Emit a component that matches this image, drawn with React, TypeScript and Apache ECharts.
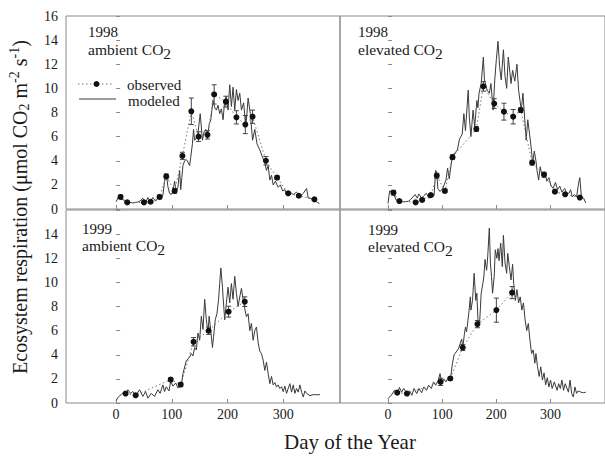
import React, { useEffect, useRef } from "react";
import * as echarts from "echarts";

// ---- data ----
const tickDays = [0, 100, 200, 300];

// modeled daily respiration, [day, µmol CO2 m-2 s-1]
const model98Amb: [number, number][] = [
  [0, 0.6], [4, 1.0], [8, 0.85], [13, 0.75], [18, 0.55], [24, 0.55], [30, 0.5], [36, 0.55], [41, 0.6], [45, 0.75],
  [48, 0.9], [53, 0.55], [57, 0.95], [61, 0.6], [66, 0.95], [71, 0.65], [76, 1.0], [81, 0.8], [84, 1.15], [87, 2.3],
  [90, 2.95], [93, 1.85], [96, 1.3], [99, 1.2], [102, 1.45], [105, 2.3], [108, 1.4], [111, 1.8], [114, 3.2], [116, 1.6],
  [118, 2.6], [120, 3.6], [123, 4.0], [126, 4.1], [129, 3.9], [132, 3.6], [134, 4.3], [137, 5.4], [139, 6.6], [141, 5.7],
  [144, 5.9], [147, 6.3], [151, 7.9], [155, 5.7], [158, 6.4], [161, 6.6], [164, 5.8], [167, 7.0], [170, 7.4], [174, 9.0],
  [177, 8.4], [180, 8.2], [183, 8.6], [186, 7.9], [189, 8.3], [192, 7.4], [195, 9.0], [198, 9.3], [201, 8.2], [204, 10.3],
  [207, 8.5], [210, 10.1], [213, 8.2], [216, 9.9], [219, 9.0], [222, 9.6], [225, 8.2], [229, 8.8], [233, 6.8], [237, 9.2],
  [241, 7.9], [245, 5.7], [249, 6.6], [253, 5.4], [258, 4.9], [262, 4.4], [267, 3.8], [270, 3.2], [273, 3.6], [276, 2.4],
  [279, 2.8], [282, 2.0], [286, 2.3], [291, 1.8], [295, 2.0], [299, 1.5], [303, 1.6], [306, 1.2], [312, 1.4], [318, 1.2],
  [324, 1.4], [330, 1.0], [336, 1.3], [342, 1.7], [345, 0.9], [348, 0.9], [354, 0.75], [360, 0.6], [365, 0.45],
];
const model98Elev: [number, number][] = [
  [0, 0.45], [3, 1.5], [9, 1.4], [15, 0.75], [20, 0.6], [26, 0.6], [32, 0.6], [38, 0.65], [42, 0.8], [46, 1.0],
  [50, 1.2], [54, 0.9], [57, 1.25], [62, 0.9], [66, 1.1], [71, 1.3], [75, 0.9], [80, 1.0], [85, 1.1], [88, 3.2],
  [90, 3.0], [92, 1.7], [96, 1.45], [101, 1.7], [107, 2.4], [110, 3.4], [113, 2.5], [119, 4.5], [123, 4.6], [128, 4.9],
  [132, 5.8], [137, 6.2], [140, 7.9], [143, 6.5], [148, 9.85], [150, 7.7], [153, 6.0], [157, 8.2], [160, 6.8], [164, 9.0],
  [166, 8.4], [168, 9.6], [172, 10.4], [176, 12.6], [178, 10.7], [183, 9.85], [187, 9.6], [190, 10.4], [194, 8.2], [197, 10.7],
  [200, 12.4], [203, 13.9], [206, 11.8], [209, 10.7], [213, 13.2], [216, 11.0], [219, 10.0], [222, 12.6], [225, 11.3], [227, 10.4],
  [230, 11.5], [234, 10.6], [238, 12.0], [241, 9.85], [246, 8.2], [249, 9.6], [252, 7.7], [255, 5.7], [258, 7.4], [261, 6.3],
  [264, 5.2], [267, 3.8], [270, 4.8], [273, 4.0], [275, 3.2], [278, 2.4], [281, 3.5], [284, 2.8], [287, 2.6], [290, 3.0],
  [293, 2.3], [297, 2.6], [301, 1.9], [305, 1.75], [309, 2.2], [313, 1.6], [317, 1.9], [321, 1.4], [326, 1.7], [330, 1.3],
  [334, 1.3], [337, 1.6], [340, 1.0], [344, 1.2], [348, 1.0], [352, 2.2], [354, 2.6], [357, 1.0], [361, 0.9], [365, 0.5],
];
const model99Amb: [number, number][] = [
  [0, 0.2], [4, 0.5], [9, 0.7], [13, 0.86], [18, 0.75], [21, 1.1], [26, 0.8], [30, 0.95], [36, 0.65], [42, 1.1],
  [48, 0.55], [53, 0.95], [57, 0.4], [63, 0.8], [69, 0.55], [75, 1.1], [79, 0.8], [84, 1.5], [87, 0.95], [90, 1.35],
  [95, 1.0], [98, 1.8], [102, 1.4], [107, 1.66], [111, 1.25], [114, 1.33], [117, 1.4], [120, 2.44], [126, 3.5], [132, 3.8],
  [135, 4.1], [138, 3.9], [141, 4.6], [144, 4.4], [147, 5.8], [150, 5.2], [153, 7.2], [156, 6.1], [159, 8.6], [162, 6.9],
  [165, 5.8], [167, 7.2], [169, 6.4], [173, 4.6], [175, 5.5], [178, 6.9], [181, 7.4], [184, 8.6], [186, 9.9], [188, 11.2],
  [191, 9.6], [192, 8.8], [195, 6.9], [198, 8.3], [201, 9.6], [204, 8.3], [207, 9.9], [210, 8.6], [213, 10.5], [216, 9.1],
  [219, 8.0], [222, 8.8], [225, 9.5], [228, 8.6], [231, 7.8], [234, 7.15], [237, 7.4], [240, 6.0], [243, 6.6], [246, 5.2],
  [249, 6.0], [252, 6.3], [255, 5.0], [258, 4.3], [261, 4.1], [264, 3.55], [267, 2.7], [270, 3.4], [273, 2.44], [276, 1.6],
  [279, 2.2], [282, 1.5], [285, 1.7], [288, 1.33], [291, 1.5], [294, 1.2], [297, 1.35], [300, 0.94], [303, 1.4], [306, 0.8],
  [309, 1.2], [312, 1.6], [315, 0.9], [318, 1.5], [321, 0.8], [324, 1.2], [327, 0.9], [330, 1.5], [333, 0.9], [336, 0.5],
  [339, 1.0], [342, 0.8], [348, 0.6], [354, 0.7], [360, 0.68], [366, 0.7],
];
const model99Elev: [number, number][] = [
  [0, 0.36], [6, 0.64], [12, 1.05], [18, 0.8], [21, 1.3], [25, 0.9], [29, 1.2], [35, 0.78], [40, 1.0], [44, 0.64],
  [48, 1.2], [53, 0.78], [57, 1.2], [62, 0.85], [66, 1.33], [71, 1.05], [75, 1.47], [80, 1.2], [84, 1.75], [88, 1.47],
  [93, 1.9], [96, 2.44], [99, 1.75], [103, 2.0], [107, 1.75], [112, 2.16], [115, 1.9], [119, 3.3], [122, 4.0], [126, 4.24],
  [130, 4.5], [133, 4.9], [136, 5.3], [138, 4.6], [141, 5.7], [143, 6.3], [145, 5.9], [149, 7.4], [152, 8.8], [153, 7.7],
  [156, 8.5], [159, 10.75], [162, 8.5], [164, 9.1], [166, 6.9], [169, 6.6], [172, 9.1], [175, 9.9], [177, 10.5], [179, 11.9],
  [182, 11.0], [184, 12.1], [187, 14.5], [189, 11.6], [191, 10.5], [193, 9.1], [196, 10.5], [198, 12.7], [201, 12.0], [203, 12.8],
  [205, 11.8], [208, 13.25], [211, 11.3], [213, 13.9], [216, 11.6], [219, 10.75], [221, 12.4], [224, 11.3], [227, 10.2], [230, 11.5],
  [232, 9.9], [235, 8.5], [238, 9.4], [241, 8.3], [244, 8.8], [247, 7.7], [250, 8.3], [253, 6.9], [256, 6.0], [259, 6.6],
  [262, 5.2], [265, 4.1], [268, 4.4], [271, 3.3], [273, 4.1], [276, 3.0], [279, 2.2], [282, 3.0], [285, 1.9], [288, 2.5],
  [291, 1.5], [294, 2.1], [297, 1.33], [300, 1.9], [303, 1.2], [307, 1.75], [312, 1.05], [315, 1.6], [318, 1.2], [321, 1.9],
  [324, 1.05], [327, 1.6], [333, 0.9], [336, 1.9], [339, 0.78], [342, 0.5], [345, 1.33], [348, 0.8], [351, 1.0], [356, 0.9],
  [361, 0.85], [365, 0.9],
];

// observed means and standard errors
const obs98AmbDays = [8, 20, 50, 62, 78, 90, 105, 119, 135, 148, 164, 176, 197, 216, 232, 245, 269, 289, 309, 328, 356];
const obs98AmbVals = [1.0, 0.55, 0.55, 0.6, 1.0, 2.7, 1.5, 4.4, 8.1, 6.0, 6.15, 9.5, 8.9, 7.6, 7.0, 7.65, 4.0, 2.6, 1.3, 1.1, 0.8];
const obs98AmbErr = [0.15, 0.1, 0.1, 0.1, 0.15, 0.2, 0.2, 0.3, 1.1, 0.4, 0.35, 0.8, 0.45, 0.55, 0.75, 0.55, 0.35, 0.15, 0.1, 0.1, 0.1];

const obs98ElevDays = [10, 21, 51, 63, 79, 90, 105, 119, 163, 176, 196, 214, 231, 245, 266, 288, 308, 327, 354];
const obs98ElevVals = [1.35, 0.66, 0.55, 0.75, 1.15, 2.76, 1.5, 4.3, 6.63, 10.17, 8.74, 8.07, 7.65, 8.2, 3.84, 2.85, 1.44, 1.22, 0.95];
const obs98ElevErr = [0.2, 0.1, 0.1, 0.1, 0.1, 0.2, 0.15, 0.2, 0.2, 0.4, 0.4, 0.7, 0.6, 0.2, 0.2, 0.2, 0.1, 0.1, 0.1];

const obs99AmbDays = [17, 35, 98, 116, 139, 166, 202, 231];
const obs99AmbVals = [0.78, 0.64, 1.94, 1.53, 5.07, 5.99, 7.57, 8.4];
const obs99AmbErr = [0.1, 0.1, 0.15, 0.15, 0.35, 0.3, 0.45, 0.4];

const obs99ElevDays = [17, 35, 97, 115, 138, 165, 200, 229];
const obs99ElevVals = [0.86, 0.78, 1.75, 2.03, 4.6, 6.54, 7.7, 9.15];
const obs99ElevErr = [0.1, 0.1, 0.3, 0.15, 0.25, 0.3, 1.0, 0.5];

const panelYears = ["1998", "1998", "1999", "1999"];
const panelTreatments = ["ambient CO", "elevated CO", "ambient CO", "elevated CO"];

// ---- styling ----
const SERIF = "'Liberation Serif', 'Times New Roman', serif";
const FRAME = "#8a8a8a";
const INK = "#1a1a1a";

const panels = [
  { model: model98Amb, days: obs98AmbDays, vals: obs98AmbVals, err: obs98AmbErr },
  { model: model98Elev, days: obs98ElevDays, vals: obs98ElevVals, err: obs98ElevErr },
  { model: model99Amb, days: obs99AmbDays, vals: obs99AmbVals, err: obs99AmbErr },
  { model: model99Elev, days: obs99ElevDays, vals: obs99ElevVals, err: obs99ElevErr },
];

// grid boxes: [left, top, width, height]; right column runs past the page edge
const boxes = [
  [66, 16, 274, 193],
  [340, 16, 276, 193],
  [66, 210, 274, 193],
  [340, 210, 276, 193],
];
const xRanges = [
  [-90, 402],
  [-88.6, 400.5],
  [-90, 402],
  [-88.6, 400.5],
];
// panel caption anchors: [x, year line y, treatment line y]
const labelPos = [
  [88, 32, 49],
  [358, 32, 49],
  [82, 228.5, 245.5],
  [368, 229.5, 246],
];

function buildOption(): echarts.EChartsCoreOption {
  const grid = boxes.map(([l, t, w, h]) => ({
    left: l,
    top: t,
    width: w,
    height: h,
    show: true,
    borderColor: FRAME,
    borderWidth: 1,
    backgroundColor: "transparent",
    containLabel: false,
  }));

  const xAxis = boxes.map((_, i) => ({
    type: "value",
    gridIndex: i,
    min: xRanges[i][0],
    max: xRanges[i][1],
    axisLine: { show: false },
    splitLine: { show: false },
    axisTick: {
      show: true,
      inside: true,
      length: 4,
      customValues: tickDays,
      lineStyle: { color: FRAME, width: 1 },
    },
    axisLabel: {
      show: i >= 2,
      customValues: tickDays,
      fontFamily: SERIF,
      fontSize: 14,
      color: INK,
      margin: 4,
    },
  }));

  const yAxis = boxes.map((_, i) => ({
    type: "value",
    gridIndex: i,
    min: 0,
    max: 16,
    interval: 2,
    axisLine: { show: false },
    splitLine: { show: false },
    axisTick: { show: true, inside: true, length: 4, lineStyle: { color: FRAME, width: 1 } },
    axisLabel: {
      show: i % 2 === 0,
      fontFamily: SERIF,
      fontSize: 14,
      color: INK,
      margin: 8,
      formatter: (v: number) => (i === 2 && v === 16 ? "" : String(v)),
    },
  }));

  const series: any[] = [];
  panels.forEach((p, i) => {
    series.push({
      type: "line",
      xAxisIndex: i,
      yAxisIndex: i,
      data: p.model,
      showSymbol: false,
      lineStyle: { color: "#3a3a3a", width: 1 },
      z: 2,
    });
    series.push({
      type: "line",
      xAxisIndex: i,
      yAxisIndex: i,
      data: p.days.map((d, k) => [d, p.vals[k]]),
      symbol: "circle",
      symbolSize: 6,
      itemStyle: { color: "#111" },
      lineStyle: { color: "#777", width: 1, type: [1.5, 2.5] },
      z: 4,
    });
    series.push({
      type: "custom",
      xAxisIndex: i,
      yAxisIndex: i,
      data: p.days.map((d, k) => [d, p.vals[k] - p.err[k], p.vals[k] + p.err[k]]),
      encode: { x: 0, y: [1, 2] },
      z: 3,
      renderItem: (_params: any, api: any) => {
        const d = api.value(0);
        const lo = api.coord([d, api.value(1)]);
        const hi = api.coord([d, api.value(2)]);
        const w = 2.5;
        const st = { stroke: "#444", lineWidth: 1 };
        return {
          type: "group",
          children: [
            { type: "line", shape: { x1: lo[0], y1: lo[1], x2: hi[0], y2: hi[1] }, style: st },
            { type: "line", shape: { x1: lo[0] - w, y1: lo[1], x2: lo[0] + w, y2: lo[1] }, style: st },
            { type: "line", shape: { x1: hi[0] - w, y1: hi[1], x2: hi[0] + w, y2: hi[1] }, style: st },
          ],
        };
      },
    });
  });

  const graphic: any[] = [];
  panels.forEach((_, i) => {
    const [x, y1, y2] = labelPos[i];
    graphic.push({
      type: "text",
      x,
      y: y1,
      style: {
        text: panelYears[i],
        fontFamily: SERIF,
        fontSize: 15,
        lineHeight: 12,
        fill: INK,
        verticalAlign: "middle",
        align: "left",
      },
    });
    graphic.push({
      type: "text",
      x,
      y: y2,
      style: {
        text: `{n|${panelTreatments[i]}}{s|2}`,
        verticalAlign: "middle",
        align: "left",
        rich: {
          n: { fontFamily: SERIF, fontSize: 15.5, lineHeight: 12, fill: INK },
          s: { fontFamily: SERIF, fontSize: 15.5, lineHeight: 4, fill: INK, padding: [8, 0, 0, 0] },
        },
      },
    });
  });

  // legend
  const legendText = { fontFamily: SERIF, fontSize: 15, lineHeight: 12, fill: INK, verticalAlign: "middle" };
  graphic.push(
    { type: "line", shape: { x1: 78, y1: 84, x2: 113, y2: 84 }, style: { stroke: "#777", lineWidth: 1, lineDash: [1.5, 2.5] } },
    { type: "circle", shape: { cx: 96.5, cy: 84, r: 3 }, style: { fill: "#111" } },
    { type: "text", x: 127, y: 85, style: { ...legendText, text: "observed" } },
    { type: "line", shape: { x1: 79, y1: 99, x2: 116, y2: 99 }, style: { stroke: "#3a3a3a", lineWidth: 1 } },
    { type: "text", x: 128, y: 101, style: { ...legendText, text: "modeled" } },
  );

  // axis titles
  graphic.push({
    type: "text",
    x: 20,
    y: 207,
    rotation: Math.PI / 2,
    style: {
      text: "{n|Ecosystem respiration (\u03bcmol CO}{sub|2}{n| m}{sup|-2}{n| s}{sup|-1}{n|)}",
      align: "center",
      verticalAlign: "middle",
      rich: {
        n: { fontFamily: SERIF, fontSize: 20, lineHeight: 16, fill: INK },
        sub: { fontFamily: SERIF, fontSize: 14, lineHeight: 2, fill: INK, padding: [8, 0, 0, 0] },
        sup: { fontFamily: SERIF, fontSize: 14, lineHeight: 2, fill: INK, padding: [0, 0, 12, 0] },
      },
    },
  });
  graphic.push({
    type: "text",
    x: 350,
    y: 442,
    style: {
      text: "Day of the Year",
      fontFamily: SERIF,
      fontSize: 21,
      fill: INK,
      align: "center",
      verticalAlign: "middle",
    },
  });

  return {
    animation: false,
    backgroundColor: "#ffffff",
    grid,
    xAxis,
    yAxis,
    series,
    graphic,
  };
}

export default function App() {
  const ref = useRef<HTMLDivElement>(null);
  useEffect(() => {
    if (!ref.current) return;
    const chart = echarts.init(ref.current, undefined, { renderer: "svg" });
    chart.setOption(buildOption());
    return () => chart.dispose();
  }, []);
  return <div ref={ref} style={{ position: "fixed", left: 0, top: 0, width: 605, height: 457 }} />;
}
